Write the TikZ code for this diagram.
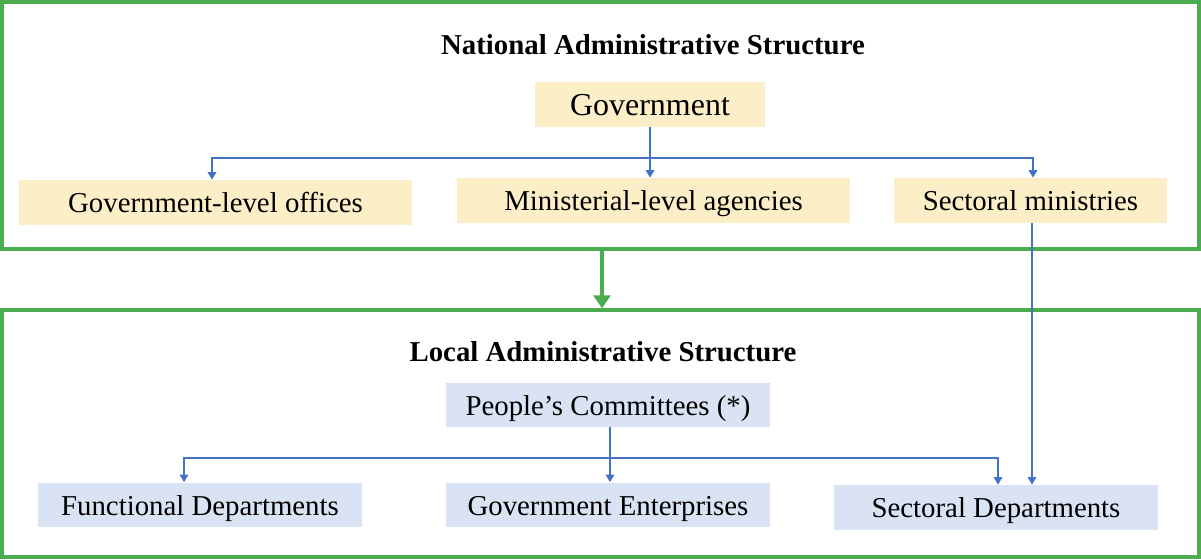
\documentclass[tikz,border=0pt]{standalone}
\usepackage{fontspec}
\setmainfont{Liberation Serif}
\usetikzlibrary{arrows.meta}

\definecolor{framegreen}{RGB}{76,173,80}
\definecolor{linkblue}{RGB}{68,114,196}
\definecolor{natfill}{RGB}{252,239,200}
\definecolor{locfill}{RGB}{218,227,243}

\begin{document}
\begin{tikzpicture}[x=0.02cm, y=-0.02cm,
        frame/.style={draw=framegreen, line width=0.07cm, minimum width=23.94cm, minimum height=4.94cm, inner sep=0pt},
        title/.style={font=\fontsize{16.4}{19}\selectfont\bfseries},
        natbox/.style={fill=natfill, minimum height=0.9cm, font=\fontsize{16.4}{19}\selectfont, inner sep=0pt, text height=13.1pt, text depth=1.3pt},
        locbox/.style={fill=locfill, minimum width=6.48cm, minimum height=0.9cm, font=\fontsize{16.4}{19}\selectfont, inner sep=0pt, text height=13.1pt, text depth=1.3pt},
        link/.style={draw=linkblue, line width=0.03cm, -{Triangle[width=0.17cm,length=0.15cm]}},
        bigarrow/.style={draw=framegreen, line width=0.08cm, -{Triangle[width=0.34cm,length=0.26cm]}}]
                \useasboundingbox (0,0) rectangle (1201,560);

                \node[frame] (nat) at (600.5,125.5) {};
                \node[frame] (loc) at (600.5,433.5) {};

                \node[title] (natT) at (653,45) {National Administrative Structure};
                \node[natbox, minimum width=4.6cm, font=\fontsize{18.2}{21}\selectfont, text height=14pt] (gov) at (650,104.5) {Government};
                \node[natbox, minimum width=7.86cm] (glo) at (215.5,202.5) {Government-level offices};
                \node[natbox, minimum width=7.86cm] (mla) at (653.5,200.5) {Ministerial-level agencies};
                \node[natbox, minimum width=5.46cm] (sm)  at (1030.5,200.5) {Sectoral ministries};

                \node[title] (locT) at (603,352) {Local Administrative Structure};
                \node[locbox, minimum height=0.88cm] (pc) at (608,405) {People’s Committees (*)};
                \node[locbox] (fd) at (200,505) {Functional Departments};
                \node[locbox] (ge) at (608,505) {Government Enterprises};
                \node[locbox] (sd) at (996,507.5) {Sectoral Departments};

                \coordinate (bus1) at (650,158);
                \coordinate (bus2) at (610,458);

                \draw[bigarrow] (nat.south -| 602,0) -- (loc.north -| 602,0);

                \draw[link] (gov.south) -- (gov.south |- mla.north);
                \draw[link] (bus1) -| ([xshift=-0.07cm]glo.north);
                \draw[link] (bus1) -| ([xshift=0.05cm]sm.north);
                \draw[link] ([xshift=0.03cm]sm.south) -- ([xshift=0.03cm]sm.south |- sd.north);

                \draw[link] ([xshift=0.04cm]pc.south) -- ([xshift=0.04cm]pc.south |- ge.north);
                \draw[link] (bus2) -| ([xshift=-0.32cm]fd.north);
                \draw[link] (bus2) -| ([xshift=0.04cm]sd.north);
            \end{tikzpicture}
\end{document}
